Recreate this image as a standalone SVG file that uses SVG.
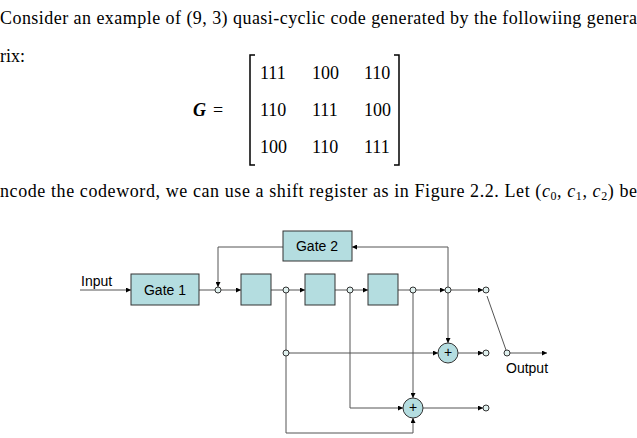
<svg xmlns="http://www.w3.org/2000/svg" width="637" height="438" viewBox="0 0 637 438">
<defs>
<marker id="a" viewBox="0 0 10 10" refX="10" refY="5" markerWidth="5" markerHeight="5" orient="auto"><path d="M0,0L10,5L0,10z" fill="#000"/></marker>
<style>
.t{font-family:"Liberation Serif","Times New Roman","DejaVu Serif",serif;font-size:18px;fill:#000}
.b{fill:#b4dde0;stroke:#333;stroke-width:1}
.l{fill:none;stroke:#555;stroke-width:1}
.n{fill:#dff0ee;stroke:#333;stroke-width:1}
.s{font-family:"Liberation Sans",Arial,sans-serif;font-size:14px;fill:#000}
</style>
</defs>
<rect width="637" height="438" fill="#fff"/>
<text class="t" x="0" y="24" textLength="637" lengthAdjust="spacing">Consider an example of (9, 3) quasi-cyclic code generated by the followiing genera</text>
<text class="t" x="0" y="62">rix:</text>
<text class="t" x="193" y="116" font-weight="bold" font-style="italic">G</text><text class="t" x="213" y="116">=</text>
<g class="t">
<text x="260" y="79">111</text><text x="312" y="79">100</text><text x="364" y="79">110</text>
<text x="260" y="116">110</text><text x="312" y="116">111</text><text x="364" y="116">100</text>
<text x="260" y="153">100</text><text x="312" y="153">110</text><text x="364" y="153">111</text>
</g>
<path d="M255,55H250V165H255M394,55H399V165H394" fill="none" stroke="#000" stroke-width="1.5"/>
<text class="t" x="0" y="197" textLength="637" lengthAdjust="spacing">ncode the codeword, we can use a shift register as in Figure 2.2. Let (<tspan font-style="italic">c</tspan><tspan font-size="12" dy="3">0</tspan><tspan dy="-3">, </tspan><tspan font-style="italic">c</tspan><tspan font-size="12" dy="3">1</tspan><tspan dy="-3">, </tspan><tspan font-style="italic">c</tspan><tspan font-size="12" dy="3">2</tspan><tspan dy="-3">) be</tspan></text>
<g id="connectors">
<path class="l" d="M80,290H131" marker-end="url(#a)"/>
<path class="l" d="M199,290H215"/>
<path class="l" d="M221,290H241" marker-end="url(#a)"/>
<path class="l" d="M271,290H283"/>
<path class="l" d="M289,290H305" marker-end="url(#a)"/>
<path class="l" d="M335,290H347"/>
<path class="l" d="M353,290H368" marker-end="url(#a)"/>
<path class="l" d="M398,290H410"/>
<path class="l" d="M416,290H445" marker-end="url(#a)"/>
<path class="l" d="M451,290H483" marker-end="url(#a)"/>
<path class="l" d="M283,247H218V287" marker-end="url(#a)"/>
<path class="l" d="M448,287V247H352" marker-end="url(#a)"/>
<path class="l" d="M448,293V343" marker-end="url(#a)"/>
<path class="l" d="M286,293V350M286,356V433H413V418" marker-end="url(#a)"/>
<path class="l" d="M289,353H438" marker-end="url(#a)"/>
<path class="l" d="M458,353H483" marker-end="url(#a)"/>
<path class="l" d="M350,293V408H403" marker-end="url(#a)"/>
<path class="l" d="M413,293V398" marker-end="url(#a)"/>
<path class="l" d="M423,408H483" marker-end="url(#a)"/>
<path class="l" d="M487,296L506,350"/>
<path class="l" d="M510,353H547" marker-end="url(#a)"/>
</g>
<g id="gate1"><rect class="b" x="131" y="274" width="68" height="31"/><text class="s" x="165" y="295" text-anchor="middle">Gate 1</text></g>
<g id="gate2"><rect class="b" x="283" y="231" width="69" height="30"/><text class="s" x="317" y="251" text-anchor="middle">Gate 2</text></g>
<g id="r1"><rect class="b" x="241" y="274" width="30" height="31"/></g>
<g id="r2"><rect class="b" x="305" y="274" width="30" height="31"/></g>
<g id="r3"><rect class="b" x="368" y="274" width="30" height="31"/></g>
<g id="add1"><circle class="b" cx="448" cy="353" r="10"/><text class="s" x="448" y="357" font-size="11" text-anchor="middle">+</text></g>
<g id="add2"><circle class="b" cx="413" cy="408" r="10"/><text class="s" x="413" y="412" font-size="11" text-anchor="middle">+</text></g>
<g id="nodes">
<circle class="n" cx="218" cy="290" r="3"/><circle class="n" cx="286" cy="290" r="3"/><circle class="n" cx="350" cy="290" r="3"/><circle class="n" cx="413" cy="290" r="3"/><circle class="n" cx="448" cy="290" r="3"/><circle class="n" cx="486" cy="290" r="3"/><circle class="n" cx="286" cy="353" r="3"/><circle class="n" cx="486" cy="353" r="3"/><circle class="n" cx="486" cy="408" r="3"/><circle class="n" cx="507" cy="353" r="3"/>
</g>
<text class="s" x="81" y="286">Input</text>
<text class="s" x="506" y="373">Output</text>
</svg>
